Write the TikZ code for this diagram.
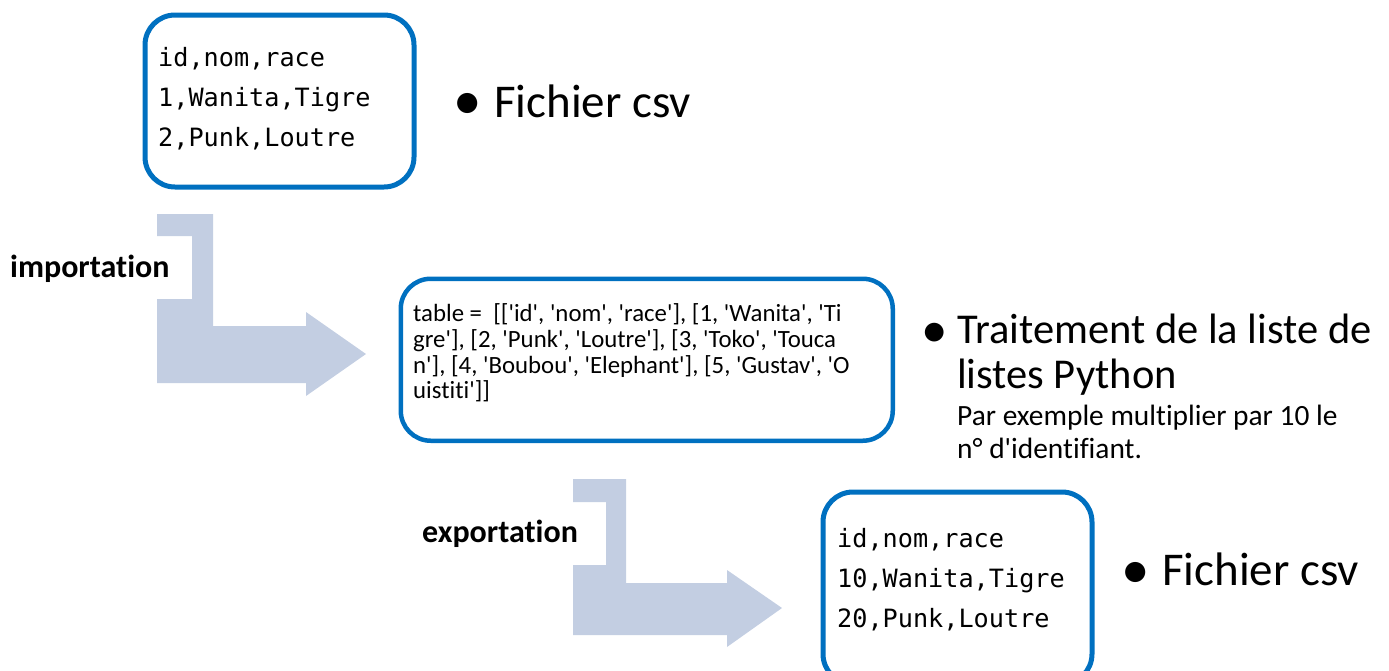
\documentclass[tikz,border=0pt]{standalone}
\usepackage{fontspec}
\setmainfont{Carlito}[Ligatures={TeXOff,CommonOff}]
\newfontfamily\csvmono{DejaVu Sans Mono}
\definecolor{boxblue}{RGB}{0,112,192}
\definecolor{arrowfill}{RGB}{195,206,226}
\begin{document}
\begin{tikzpicture}[x=1pt,y=-1pt,
  csvbox/.style={draw=boxblue, rounded corners=30pt, fill=white, inner sep=0pt, anchor=north west},
  monoline/.style={anchor=base west, inner sep=0pt, font=\csvmono\fontsize{25.2}{30}\selectfont},
  listline/.style={anchor=base west, inner sep=0pt, font=\fontsize{24.8}{26}\selectfont},
  bigtext/.style={anchor=base west, inner sep=0pt, font=\fontsize{47}{54}\selectfont},
  midtext/.style={anchor=base west, inner sep=0pt, font=\fontsize{42.5}{48}\selectfont},
  smalltext/.style={anchor=base west, inner sep=0pt, font=\fontsize{29.4}{32}\selectfont},
  bulletmark/.style={anchor=base, inner sep=0pt, font=\fontsize{57}{60}\selectfont},
  steplabel/.style={anchor=base west, inner sep=0pt, font=\bfseries\fontsize{32}{36}\selectfont},
  bentarrow/.style={fill=arrowfill, draw=none}
]
\useasboundingbox (0,0) rectangle (1389,670);

% bent arrows
\fill[bentarrow] (157,214) -- (213,214) -- (213,326) -- (306,326) -- (306,312) -- (366,354)
  -- (306,396) -- (306,383) -- (157,383) -- (157,299) -- (192,299) -- (192,236) -- (157,236) -- cycle;
\fill[bentarrow] (573,479) -- (626,479) -- (626,583) -- (727,583) -- (727,570) -- (782,608)
  -- (727,647) -- (727,635) -- (573,635) -- (573,565) -- (606,565) -- (606,502) -- (573,502) -- cycle;

% boxes
\node[csvbox, line width=5pt, minimum width=269pt, minimum height=172pt] (box1) at (142.5,12.5) {};
\node[csvbox, line width=4.5pt, minimum width=492pt, minimum height=162pt] (box2) at (398.5,276.5) {};
\node[csvbox, line width=5pt, minimum width=269pt, minimum height=192pt] (box3) at (820.5,489.5) {};

% box 1 text
\node[monoline] (b1l1) at (158,66) {id,nom,race};
\node[monoline] (b1l2) at (158,106) {1,Wanita,Tigre};
\node[monoline] (b1l3) at (158,146) {2,Punk,Loutre};

% box 2 text
\node[listline] (b2l1) at (413,321) {table =\ \ [['id', 'nom', 'race'], [1, 'Wanita', 'Ti};
\node[listline] (b2l2) at (413,347) {gre'], [2, 'Punk', 'Loutre'], [3, 'Toko', 'Touca};
\node[listline] (b2l3) at (413,373) {n'], [4, 'Boubou', 'Elephant'], [5, 'Gustav', 'O};
\node[listline] (b2l4) at (413,398) {uistiti']]};

% box 3 text
\node[monoline] (b3l1) at (837,547) {id,nom,race};
\node[monoline] (b3l2) at (837,587) {10,Wanita,Tigre};
\node[monoline] (b3l3) at (837,627) {20,Punk,Loutre};

% bullets
\node[bulletmark] (bu1) at (468,119) {•};
\node[bigtext] (csv1) at (494,117) {Fichier csv};

\node[bulletmark, font=\fontsize{53}{56}\selectfont] (bu2) at (935,347) {•};
\node[midtext] (tr1) at (957,343) {Traitement de la liste de};
\node[midtext] (tr2) at (957,388) {listes Python};
\node[smalltext] (ex1) at (957,425) {Par exemple multiplier par 10 le};
\node[smalltext] (ex2) at (957,458) {n° d'identifiant.};

\node[bulletmark] (bu3) at (1136,588) {•};
\node[bigtext] (csv2) at (1162,585) {Fichier csv};

% labels
\node[steplabel] (imp) at (10,277) {importation};
\node[steplabel] (exp) at (422,542) {exportation};
\end{tikzpicture}
\end{document}
